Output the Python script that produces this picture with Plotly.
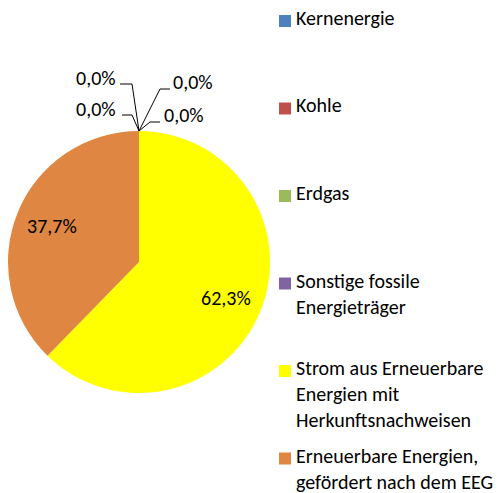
import math
import plotly.graph_objects as go

labels = ["Kernenergie", "Kohle", "Erdgas", "Sonstige fossile<br>Energieträger",
          "Strom aus Erneuerbare<br>Energien mit<br>Herkunftsnachweisen",
          "Erneuerbare Energien,<br>gefördert nach dem EEG"]
values = [0.0, 0.0, 0.0, 0.0, 62.3, 37.7]
colors = ["#4F81BD", "#C0504D", "#9BBB59", "#8064A2", "#FFFF00", "#DE8642"]
zero_labels = ["0,0%", "0,0%", "0,0%", "0,0%"]

W, H = 502, 493
FONT = "Calibri, Carlito, Lato, sans-serif"
FS = 20

def px(x):
    return x / W

def py(y):
    return 1 - y / H

# pie geometry (pixels)
CX, CY, R = 139, 262, 131

fig = go.Figure()
fig.add_trace(go.Pie(
    labels=labels, values=values, sort=False, direction="clockwise", rotation=0,
    marker=dict(colors=colors, line=dict(width=0)),
    textinfo="none",
    domain=dict(x=[px(CX - R), px(CX + R)], y=[py(CY + R), py(CY - R)]),
    showlegend=False, hoverinfo="label+percent",
))

shapes = []
annotations = []

# percentage labels for non-zero slices, placed on mid-angle at 0.72 R
total = sum(values)
cum = 0.0
for v in values:
    if v > 0:
        mid = (cum + v / 2) / total * 2 * math.pi
        lx = CX + 0.72 * R * math.sin(mid)
        ly = CY - 0.72 * R * math.cos(mid)
        txt = f"{v / total * 100:.1f}%".replace(".", ",")
        annotations.append(dict(x=px(lx), y=py(ly), xref="paper", yref="paper",
                                text=txt, showarrow=False, xanchor="center", yanchor="middle",
                                font=dict(family=FONT, size=FS, color="#000000")))
    cum += v

# leader lines for zero-valued slices (tip at top of pie)
tip = (CX, CY - R)
leaders = [((120, 84), (132, 84), (74, 78)),
           ((170, 89), (160, 89), (171, 82)),
           ((122, 115), (132, 115), (74, 109)),
           ((160, 122), (150, 122), (162, 115))]
for (a, b, t), txt in zip(leaders, zero_labels):
    shapes.append(dict(type="path", xref="paper", yref="paper",
                       path=f"M {px(a[0])},{py(a[1])} L {px(b[0])},{py(b[1])} L {px(tip[0])},{py(tip[1])}",
                       line=dict(color="#000000", width=1)))
    annotations.append(dict(x=px(t[0]), y=py(t[1]), xref="paper", yref="paper",
                            text=txt, showarrow=False, xanchor="left", yanchor="middle",
                            font=dict(family=FONT, size=FS, color="#000000")))

# manual legend
for i, (lab, col) in enumerate(zip(labels, colors)):
    top = 15 + 87.5 * i
    shapes.append(dict(type="rect", xref="paper", yref="paper",
                       x0=px(279), x1=px(291), y0=py(top), y1=py(top + 12),
                       fillcolor=col, line=dict(width=0)))
    annotations.append(dict(x=px(295), y=py(top - 10), xref="paper", yref="paper",
                            text=lab, showarrow=False, xanchor="left", yanchor="top",
                            align="left", borderpad=0,
                            font=dict(family=FONT, size=FS, color="#000000")))

fig.update_layout(
    width=W, height=H, margin=dict(l=0, r=0, t=0, b=0),
    paper_bgcolor="#FFFFFF", plot_bgcolor="#FFFFFF",
    separators=",.", shapes=shapes, annotations=annotations,
    font=dict(family=FONT, size=FS, color="#000000"),
)
fig.write_html("out.html", config={"displayModeBar": False},
               post_script="document.body.style.margin='0';")
